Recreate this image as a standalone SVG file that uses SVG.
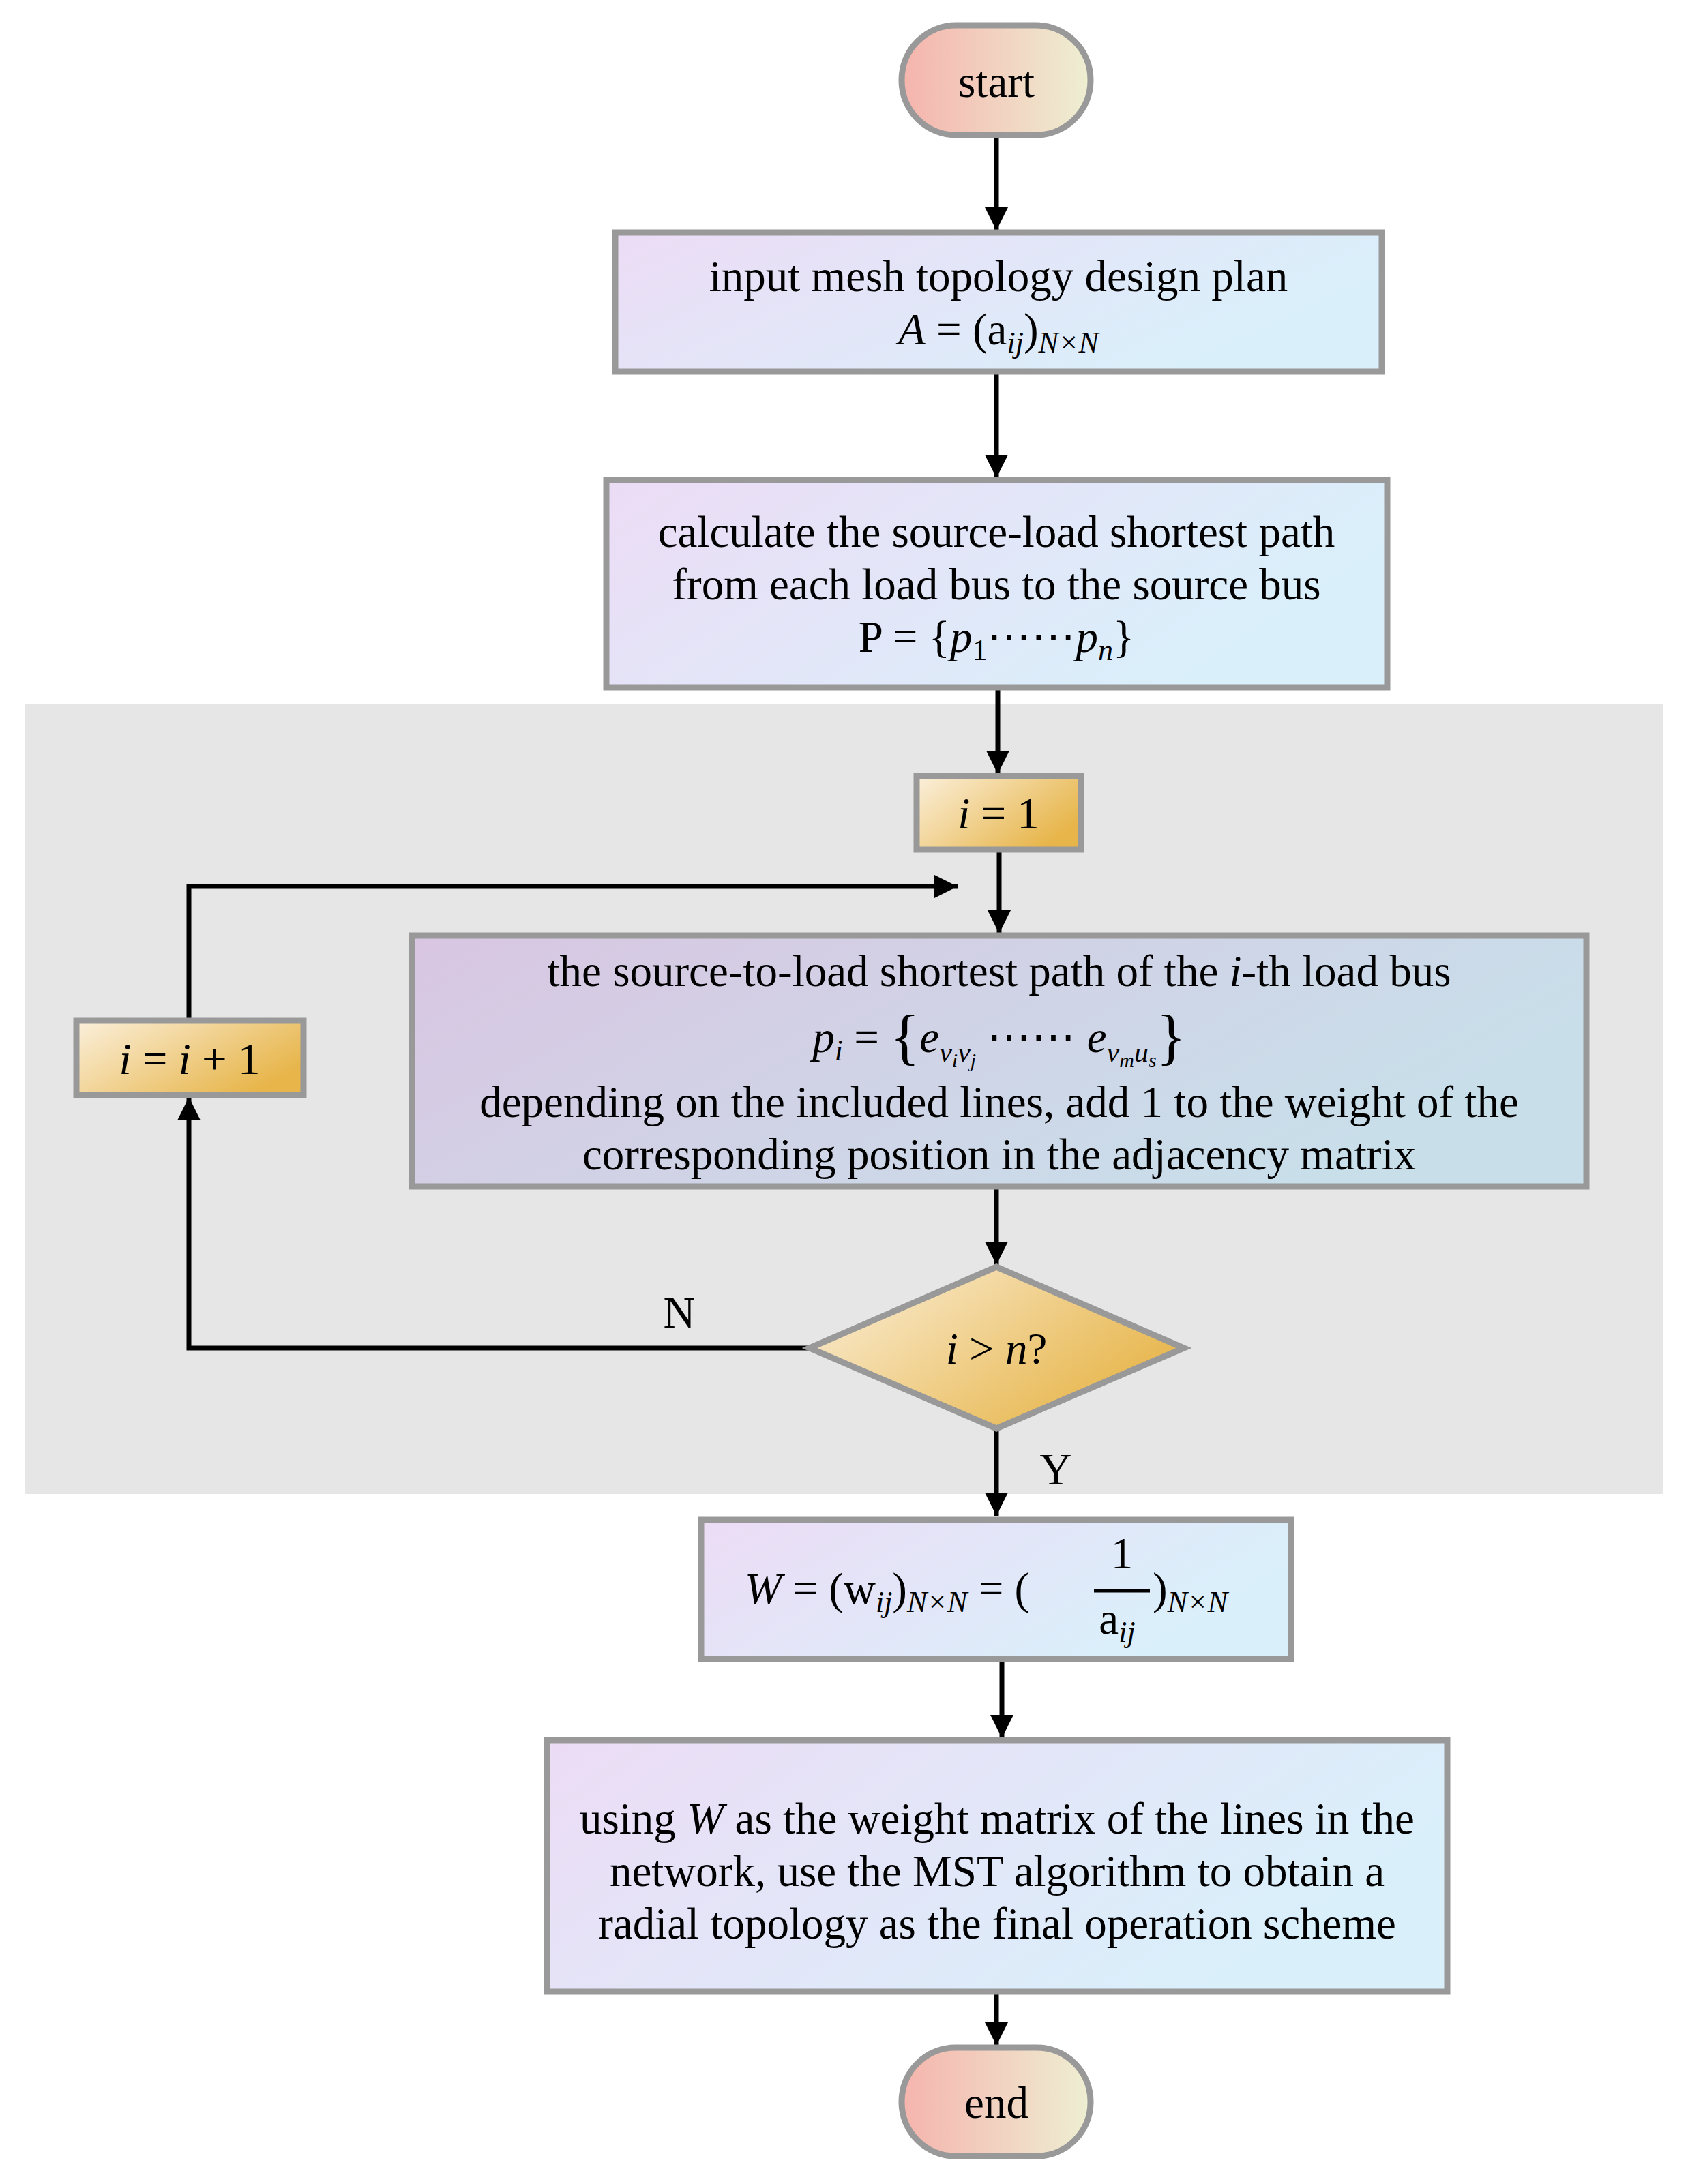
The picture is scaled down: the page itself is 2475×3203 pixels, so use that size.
<svg xmlns="http://www.w3.org/2000/svg" width="2475" height="3203" viewBox="0 0 2475 3203">
<defs>
<linearGradient id="gBox" x1="0" y1="0" x2="1" y2="0.4"><stop offset="0" stop-color="#ecdcf5"/><stop offset="1" stop-color="#d9f0fb"/></linearGradient>
<linearGradient id="gMain" x1="0" y1="0" x2="1" y2="0.4"><stop offset="0" stop-color="#d9c6e2"/><stop offset="1" stop-color="#c8dfea"/></linearGradient>
<linearGradient id="gPill" x1="0" y1="0" x2="1" y2="0"><stop offset="0" stop-color="#f5b4ad"/><stop offset="1" stop-color="#eeefd2"/></linearGradient>
<linearGradient id="gGold" x1="0" y1="0" x2="1" y2="0.6"><stop offset="0" stop-color="#fbf0dc"/><stop offset="1" stop-color="#e7b54a"/></linearGradient>
<marker id="arw" viewBox="0 0 10 10" refX="10" refY="5" markerWidth="36" markerHeight="34" orient="auto" markerUnits="userSpaceOnUse"><path d="M0,0 L10,5 L0,10 z" fill="#000"/></marker>
</defs>
<style>
.b{stroke:#999;stroke-width:9}
.t{font-family:"Liberation Serif",serif;font-size:65px;fill:#000;text-anchor:middle}
.s{text-anchor:start}
.m{font-style:italic}
.c{stroke:#000;stroke-width:7;fill:none}
</style>
<rect x="0" y="0" width="2475" height="3203" fill="#fff"/>
<rect x="37" y="1032" width="2401" height="1159" fill="#e6e6e6"/>
<g id="connectors">
<path class="c" d="M1461,198 V338" marker-end="url(#arw)"/>
<path class="c" d="M1461,545 V701" marker-end="url(#arw)"/>
<path class="c" d="M1463,1008 V1135" marker-end="url(#arw)"/>
<path class="c" d="M1465,1246 V1369" marker-end="url(#arw)"/>
<path class="c" d="M1461,1740 V1855" marker-end="url(#arw)"/>
<path class="c" d="M1461,2095 V2223" marker-end="url(#arw)"/>
<path class="c" d="M1469,2433 V2549" marker-end="url(#arw)"/>
<path class="c" d="M1461,2921 V3000" marker-end="url(#arw)"/>
<path class="c" d="M1187,1977 H277 V1609" marker-end="url(#arw)"/>
<path class="c" d="M277,1497 V1300 H1404" marker-end="url(#arw)"/>
<text class="t" x="996" y="1947">N</text>
<text class="t" x="1548" y="2177">Y</text>
</g>
<g id="start"><rect class="b" x="1322" y="37" width="277" height="161" rx="80" fill="url(#gPill)"/><text class="t" x="1461" y="142">start</text></g>
<g id="input"><rect class="b" x="902" y="341" width="1124" height="204" fill="url(#gBox)"/>
<text class="t" x="1464" y="427">input mesh topology design plan</text>
<text class="t" x="1464" y="505"><tspan class="m">A</tspan> = (a<tspan class="m" font-size="44" dy="12">ij</tspan><tspan dy="-12">)</tspan><tspan class="m" font-size="44" dy="12">N×N</tspan></text></g>
<g id="calc"><rect class="b" x="889" y="704" width="1145" height="304" fill="url(#gBox)"/>
<text class="t" x="1461" y="802">calculate the source-load shortest path</text>
<text class="t" x="1461" y="879">from each load bus to the source bus</text>
<text class="t" x="1461" y="956">P = {<tspan class="m">p</tspan><tspan font-size="44" dy="12">1</tspan><tspan dy="-12">⋯⋯</tspan><tspan class="m">p</tspan><tspan class="m" font-size="44" dy="12">n</tspan><tspan dy="-12">}</tspan></text></g>
<g id="init"><rect class="b" x="1344" y="1138" width="241" height="108" fill="url(#gGold)"/><text class="t" x="1464" y="1215"><tspan class="m">i</tspan> = 1</text></g>
<g id="main"><rect class="b" x="604" y="1372" width="1722" height="368" fill="url(#gMain)"/>
<text class="t" x="1465" y="1446">the source-to-load shortest path of the <tspan class="m">i</tspan>-th load bus</text>
<text class="t" x="1465" y="1543"><tspan class="m">p</tspan><tspan class="m" font-size="44" dy="12">i</tspan><tspan dy="-12"> = </tspan><tspan font-size="90" dy="8">{</tspan><tspan class="m" dy="-8">e</tspan><tspan class="m" font-size="42" dy="14">v</tspan><tspan class="m" font-size="30" dy="8">i</tspan><tspan class="m" font-size="42" dy="-8">v</tspan><tspan class="m" font-size="30" dy="8">j</tspan><tspan dy="-22"> ⋯⋯ </tspan><tspan class="m">e</tspan><tspan class="m" font-size="42" dy="14">v</tspan><tspan class="m" font-size="30" dy="8">m</tspan><tspan class="m" font-size="42" dy="-8">u</tspan><tspan class="m" font-size="30" dy="8">s</tspan><tspan font-size="90" dy="-14">}</tspan></text>
<text class="t" x="1465" y="1638">depending on the included lines, add 1 to the weight of the</text>
<text class="t" x="1465" y="1715">corresponding position in the adjacency matrix</text></g>
<g id="inc"><rect class="b" x="112" y="1497" width="333" height="109" fill="url(#gGold)"/><text class="t" x="278" y="1575"><tspan class="m">i</tspan> = <tspan class="m">i</tspan> + 1</text></g>
<g id="cond"><polygon class="b" points="1187,1977 1461,1858 1736,1977 1461,2095" fill="url(#gGold)"/><text class="t" x="1461" y="2000"><tspan class="m">i</tspan> &gt; <tspan class="m">n</tspan>?</text></g>
<g id="weight"><rect class="b" x="1028" y="2229" width="865" height="204" fill="url(#gBox)"/>
<text class="t s" x="1092" y="2352"><tspan class="m">W</tspan> = (w<tspan class="m" font-size="44" dy="12">ij</tspan><tspan dy="-12">)</tspan><tspan class="m" font-size="44" dy="12">N×N</tspan><tspan dy="-12"> = (</tspan></text>
<line x1="1604" y1="2333" x2="1686" y2="2333" stroke="#000" stroke-width="5"/>
<text class="t" x="1645" y="2300">1</text>
<text class="t" x="1638" y="2396">a<tspan class="m" font-size="44" dy="12">ij</tspan></text>
<text class="t s" x="1690" y="2352">)<tspan class="m" font-size="44" dy="12">N×N</tspan></text></g>
<g id="final"><rect class="b" x="802" y="2552" width="1320" height="369" fill="url(#gBox)"/>
<text class="t" x="1462" y="2689">using <tspan class="m">W</tspan> as the weight matrix of the lines in the</text>
<text class="t" x="1462" y="2766">network, use the MST algorithm to obtain a</text>
<text class="t" x="1462" y="2843">radial topology as the final operation scheme</text></g>
<g id="end"><rect class="b" x="1322" y="3003" width="277" height="159" rx="79" fill="url(#gPill)"/><text class="t" x="1461" y="3106">end</text></g>
</svg>
